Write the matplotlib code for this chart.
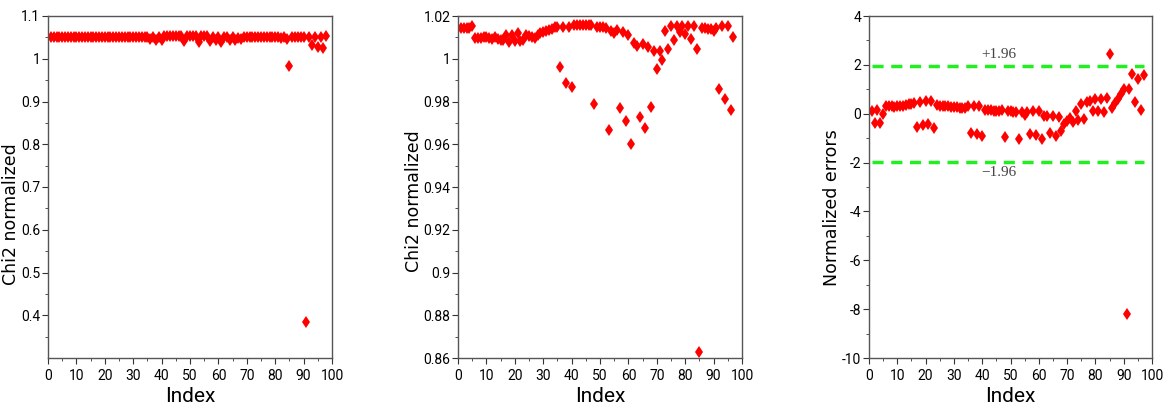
import matplotlib
matplotlib.use("Agg")
import matplotlib.pyplot as plt
from matplotlib.ticker import MultipleLocator, FixedLocator

# ---------------- data ----------------
idx1 = list(range(1, 99))
chi2_raw = (
    [1.052] * 35
    + [1.047, 1.052, 1.045, 1.050, 1.045]
    + [1.054] * 7
    + [1.042, 1.054, 1.054, 1.054, 1.054, 1.039, 1.053, 1.053, 1.053, 1.042,
       1.052, 1.045, 1.051, 1.039, 1.051, 1.050, 1.044, 1.051, 1.044, 1.049,
       1.047]
    + [1.052] * 12
    + [1.051, 1.049, 1.052, 1.047, 0.983, 1.051, 1.051, 1.051, 1.051, 1.051,
       0.385, 1.051, 1.031, 1.052, 1.027, 1.052, 1.025, 1.054]
)

idx2 = list(range(1, 98))
chi2_fit = [
    1.0142, 1.0142, 1.0142, 1.0143, 1.0153,
    1.0096, 1.0097, 1.0099, 1.0101, 1.0100, 1.0097, 1.0094, 1.0102, 1.0092, 1.0089, 1.0087,
    1.0111, 1.0077, 1.0111, 1.0084, 1.0119, 1.0084, 1.0087,
    1.0111, 1.0108, 1.0103, 1.0098, 1.0111, 1.0119, 1.0125, 1.0130, 1.0134, 1.0139, 1.0147, 1.0150,
    0.9960, 1.0150, 0.9888, 1.0150, 0.9869,
    1.0156, 1.0156, 1.0156, 1.0156, 1.0156, 1.0156, 1.0156,
    0.9787, 1.0150,
    1.0150, 1.0150, 1.0142, 0.9667, 1.0130, 1.0120, 1.0134, 0.9768, 1.0127, 0.9709,
    1.0111, 0.9600, 1.0072, 1.0061, 0.9726, 1.0068, 0.9676, 1.0056, 0.9776, 1.0038,
    0.9954, 1.0037, 0.9994, 1.0130, 1.0046, 1.0153, 1.0088, 1.0153, 1.0124, 1.0153,
    1.0116, 1.0153, 1.0092, 1.0153, 1.0046, 0.8630, 1.0142, 1.0142, 1.0139, 1.0138,
    1.0132, 1.0142, 0.9857, 1.0153, 0.9810, 1.0153, 0.9760, 1.0103,
]

idx3 = list(range(1, 98))
norm_err = [
    0.11, -0.39, 0.14, -0.39, 0.00,
    0.30, 0.31, 0.30, 0.29, 0.30, 0.31, 0.33, 0.35, 0.38, 0.40, 0.44,
    -0.53, 0.48, -0.48, 0.52, -0.44, 0.52, -0.58,
    0.34, 0.33, 0.32, 0.31, 0.30, 0.29, 0.28, 0.27, 0.25, 0.24, 0.22,
    0.32, -0.77, 0.32, -0.84, 0.33, -0.91,
    0.17, 0.15, 0.14, 0.13, 0.13, 0.12, 0.14,
    -0.95, 0.13,
    0.10, 0.05, 0.08, -1.04, 0.08, -0.05, 0.05, -0.84, 0.10, -0.88,
    0.10, -1.02, -0.09, -0.09, -0.77, -0.09, -0.91, -0.12, -0.70, -0.43,
    -0.29, -0.16, -0.34, 0.12, -0.25, 0.39, -0.22, 0.46, 0.52, 0.12,
    0.59, 0.12, 0.62, 0.09, 0.66, 2.45, 0.25, 0.42, 0.59, 0.80,
    1.03, -8.20, 1.03, 1.62, 0.46, 1.44, 0.14, 1.58,
]

conf_level = 1.96
ylabels = ["Chi2 normalized", "Chi2 normalized", "Normalized errors"]

# ---------------- figure ----------------
W, H = 1171, 412
fig = plt.figure(figsize=(W / 100, H / 100), dpi=100)

tick_font = ["Roboto", "DejaVu Sans"]

def make_ax(left_px, right_px):
    ax = fig.add_axes([left_px / W, 1 - 358 / H, (right_px - left_px) / W, (358 - 16) / H])
    for s in ax.spines.values():
        s.set_color("#555555")
        s.set_linewidth(1.0)
    ax.tick_params(which="both", direction="out", top=False, right=False,
                   colors="#333333", labelcolor="black")
    ax.tick_params(axis="y", pad=1.5)
    ax.tick_params(axis="x", pad=4)
    ax.tick_params(which="major", length=4)
    ax.tick_params(which="minor", length=2)
    ax.set_xlim(0, 100)
    ax.xaxis.set_major_locator(MultipleLocator(10))
    ax.xaxis.set_minor_locator(MultipleLocator(5))
    ax.set_xlabel("Index", fontsize=15, family=tick_font, labelpad=3)
    return ax

mk = dict(marker="d", color="red", linestyle="none", markersize=6.5, markeredgewidth=0)

# panel 1
ax1 = make_ax(48, 332)
ax1.plot(idx1, chi2_raw, **mk)
ax1.set_ylim(0.3, 1.1)
ax1.yaxis.set_major_locator(FixedLocator([0.4, 0.5, 0.6, 0.7, 0.8, 0.9, 1.0, 1.1]))
ax1.yaxis.set_minor_locator(FixedLocator([0.35, 0.45, 0.55, 0.65, 0.75, 0.85, 0.95, 1.05]))
ax1.set_yticklabels(["0.4", "0.5", "0.6", "0.7", "0.8", "0.9", "1", "1.1"])
ax1.set_ylabel(ylabels[0], fontsize=12.5, labelpad=0.5)
ax1.yaxis.label.set_y(0.42)

# panel 2
ax2 = make_ax(458, 742)
ax2.plot(idx2, chi2_fit, **mk)
ax2.set_ylim(0.86, 1.02)
yt2 = [0.86, 0.88, 0.90, 0.92, 0.94, 0.96, 0.98, 1.00, 1.02]
ax2.yaxis.set_major_locator(FixedLocator(yt2))
ax2.yaxis.set_minor_locator(MultipleLocator(0.01))
ax2.set_yticklabels(["0.86", "0.88", "0.9", "0.92", "0.94", "0.96", "0.98", "1", "1.02"])
ax2.set_ylabel(ylabels[1], fontsize=12.5, labelpad=0.5)
ax2.yaxis.label.set_y(0.46)

# panel 3
ax3 = make_ax(869, 1152)
ax3.plot([idx3[0], idx3[-1]], [conf_level, conf_level], color="#22ee22",
         linestyle=(0, (3.2, 2.2)), linewidth=2.5)
ax3.plot([idx3[0], idx3[-1]], [-conf_level, -conf_level], color="#22ee22",
         linestyle=(0, (3.2, 2.2)), linewidth=2.5)
ax3.plot(idx3, norm_err, **mk)
ax3.set_ylim(-10, 4)
ax3.yaxis.set_major_locator(MultipleLocator(2))
ax3.yaxis.set_minor_locator(MultipleLocator(1))
ax3.set_yticklabels([str(int(v)) for v in ax3.get_yticks()])
ax3.text(46, conf_level + 0.2, "+1.96", family="Liberation Serif", fontsize=11,
         color="#444444", ha="center", va="bottom")
ax3.text(46, -conf_level - 0.2, "\u22121.96", family="Liberation Serif", fontsize=11,
         color="#444444", ha="center", va="top")
ax3.set_ylabel(ylabels[2], fontsize=12.5, labelpad=0.5)
ax3.yaxis.label.set_y(0.44)

for ax in (ax1, ax2, ax3):
    for lab in ax.get_xticklabels() + ax.get_yticklabels():
        lab.set_family(tick_font)
        lab.set_fontsize(10)

fig.savefig("out.png", dpi=100)
